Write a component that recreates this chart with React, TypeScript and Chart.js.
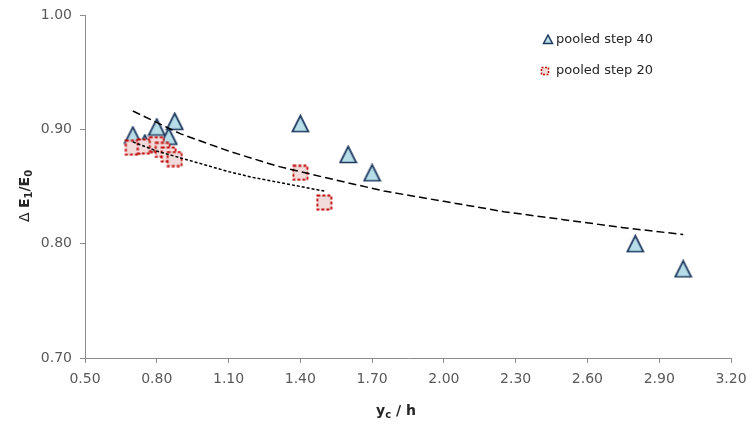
import React, { useEffect, useRef } from "react";
import { Chart, registerables } from "chart.js";

Chart.register(...registerables);

// pooled step 40 (triangles)
const step40X = [0.70, 0.75, 0.80, 0.85, 0.875, 1.40, 1.60, 1.70, 2.80, 3.00];
const step40Y = [0.895, 0.888, 0.902, 0.894, 0.907, 0.905, 0.878, 0.862, 0.800, 0.778];

// pooled step 20 (squares)
const step20X = [0.70, 0.75, 0.80, 0.825, 0.85, 0.875, 1.40, 1.50];
const step20Y = [0.884, 0.885, 0.887, 0.882, 0.878, 0.874, 0.862, 0.836];

// trend line for step 40 (dashed)
const trend40X = [0.70, 0.90, 1.10, 1.30, 1.50, 1.75, 2.00, 2.25, 2.50, 2.75, 3.00];
const trend40Y = [0.916, 0.896, 0.881, 0.868, 0.858, 0.846, 0.837, 0.828, 0.821, 0.814, 0.808];

// trend line for step 20 (dotted)
const trend20X = [0.70, 0.80, 0.90, 1.00, 1.10, 1.20, 1.30, 1.40, 1.50];
const trend20Y = [0.889, 0.881, 0.875, 0.869, 0.863, 0.858, 0.854, 0.850, 0.846];

const xTicks = [0.5, 0.8, 1.1, 1.4, 1.7, 2.0, 2.3, 2.6, 2.9, 3.2];
const yTicks = [0.7, 0.8, 0.9, 1.0];

const legendLabels = ["pooled step 40", "pooled step 20"];
const xTitle = ["y", "c", " / h"];
const yTitle = ["\u0394 ", "E", "1", "/E", "0"];

const FONT = "'DejaVu Sans', sans-serif";
const TRI_FILL = "#b7dde8";
const TRI_STROKE = "#1f3a5f";
const SQ_FILL = "#f2dcdb";
const SQ_STROKE = "#c00000";

function makeTriangle(): HTMLCanvasElement {
  const c = document.createElement("canvas");
  c.width = 19;
  c.height = 19;
  const g = c.getContext("2d")!;
  g.beginPath();
  g.moveTo(9.5, 1.5);
  g.lineTo(17.5, 17.5);
  g.lineTo(1.5, 17.5);
  g.closePath();
  g.fillStyle = TRI_FILL;
  g.fill();
  g.lineWidth = 1.7;
  g.strokeStyle = TRI_STROKE;
  g.stroke();
  return c;
}

function makeSquare(): HTMLCanvasElement {
  const c = document.createElement("canvas");
  c.width = 17;
  c.height = 17;
  const g = c.getContext("2d")!;
  g.fillStyle = SQ_FILL;
  g.fillRect(1.5, 1.5, 14, 14);
  g.setLineDash([3, 2]);
  g.lineWidth = 1.8;
  g.strokeStyle = SQ_STROKE;
  g.strokeRect(1.5, 1.5, 14, 14);
  return c;
}

type Seg = { t: string; font: string; dy: number };

function drawSegs(ctx: CanvasRenderingContext2D, segs: Seg[], cx: number, cy: number) {
  let total = 0;
  for (const s of segs) {
    ctx.font = s.font;
    total += ctx.measureText(s.t).width;
  }
  let x = cx - total / 2;
  ctx.textBaseline = "middle";
  ctx.textAlign = "left";
  for (const s of segs) {
    ctx.font = s.font;
    ctx.fillText(s.t, x, cy + s.dy);
    x += ctx.measureText(s.t).width;
  }
}

const extrasPlugin = {
  id: "extras",
  afterDraw(chart: any) {
    const ctx: CanvasRenderingContext2D = chart.ctx;
    ctx.save();
    ctx.fillStyle = "#262626";
    drawSegs(
      ctx,
      [
        { t: xTitle[0], font: `bold 14px ${FONT}`, dy: 0 },
        { t: xTitle[1], font: `bold 10px ${FONT}`, dy: 4 },
        { t: xTitle[2], font: `bold 14px ${FONT}`, dy: 0 },
      ],
      396,
      411
    );
    ctx.translate(25, 196);
    ctx.rotate(-Math.PI / 2);
    drawSegs(
      ctx,
      [
        { t: yTitle[0], font: `14px ${FONT}`, dy: 0 },
        { t: yTitle[1], font: `bold 14px ${FONT}`, dy: 0 },
        { t: yTitle[2], font: `bold 10px ${FONT}`, dy: 4 },
        { t: yTitle[3], font: `bold 14px ${FONT}`, dy: 0 },
        { t: yTitle[4], font: `bold 10px ${FONT}`, dy: 4 },
      ],
      0,
      0
    );
    ctx.restore();

    ctx.save();
    ctx.beginPath();
    ctx.moveTo(548, 35);
    ctx.lineTo(552.5, 43.5);
    ctx.lineTo(543.5, 43.5);
    ctx.closePath();
    ctx.fillStyle = TRI_FILL;
    ctx.fill();
    ctx.lineWidth = 1.5;
    ctx.strokeStyle = TRI_STROKE;
    ctx.stroke();
    ctx.fillStyle = SQ_FILL;
    ctx.fillRect(541.5, 67.5, 7, 7);
    ctx.setLineDash([2, 1.5]);
    ctx.strokeStyle = SQ_STROKE;
    ctx.lineWidth = 1.5;
    ctx.strokeRect(541.5, 67.5, 7, 7);
    ctx.setLineDash([]);
    ctx.fillStyle = "#262626";
    ctx.font = `13px ${FONT}`;
    ctx.textAlign = "left";
    ctx.textBaseline = "middle";
    ctx.fillText(legendLabels[0], 556, 40);
    ctx.fillText(legendLabels[1], 556, 71);
    ctx.restore();
  },
};

export default function App() {
  const ref = useRef<HTMLCanvasElement | null>(null);

  useEffect(() => {
    document.body.style.margin = "0";
    const canvas = ref.current;
    if (!canvas) return;
    const tri = makeTriangle();
    const sq = makeSquare();

    const toPts = (xs: number[], ys: number[]) => xs.map((x, i) => ({ x, y: ys[i] }));

    const chart = new Chart(canvas, {
      type: "scatter",
      data: {
        datasets: [
          {
            label: "trend 40",
            data: toPts(trend40X, trend40Y),
            showLine: true,
            pointRadius: 0,
            borderColor: "#000000",
            borderWidth: 1.5,
            borderDash: [8, 4],
            tension: 0,
            order: 0,
          } as any,
          {
            label: "trend 20",
            data: toPts(trend20X, trend20Y),
            showLine: true,
            pointRadius: 0,
            borderColor: "#000000",
            borderWidth: 1.5,
            borderDash: [3, 2],
            tension: 0,
            order: 0,
          } as any,
          {
            label: legendLabels[1],
            data: toPts(step20X, step20Y),
            pointStyle: sq,
            pointRadius: 8,
            order: 1,
          } as any,
          {
            label: legendLabels[0],
            data: toPts(step40X, step40Y),
            pointStyle: tri,
            pointRadius: 9,
            order: 2,
          } as any,
        ],
      },
      options: {
        animation: false,
        responsive: false,
        devicePixelRatio: 1,
        layout: { padding: { left: 0, top: 15, right: 20, bottom: 0 } },
        plugins: {
          legend: { display: false },
          tooltip: { enabled: false },
        },
        scales: {
          x: {
            type: "linear",
            min: 0.5,
            max: 3.2,
            afterBuildTicks: (s: any) => {
              s.ticks = xTicks.map((v) => ({ value: v }));
            },
            afterFit: (s: any) => {
              s.height = 72;
              s.paddingLeft = 0;
              s.paddingRight = 0;
            },
            ticks: {
              autoSkip: false,
              maxRotation: 0,
              padding: 8,
              color: "#595959",
              font: { family: FONT, size: 14 },
              callback: (v: any) => Number(v).toFixed(2),
            },
            grid: {
              drawOnChartArea: false,
              drawTicks: true,
              tickLength: 5,
              color: "#8c8c8c",
            },
            border: { color: "#8c8c8c", width: 1 },
          },
          y: {
            type: "linear",
            min: 0.7,
            max: 1.0,
            afterBuildTicks: (s: any) => {
              s.ticks = yTicks.map((v) => ({ value: v }));
            },
            afterFit: (s: any) => {
              s.width = 85;
              s.paddingTop = 0;
              s.paddingBottom = 0;
            },
            ticks: {
              padding: 8,
              color: "#595959",
              font: { family: FONT, size: 14 },
              callback: (v: any) => Number(v).toFixed(2),
            },
            grid: {
              drawOnChartArea: false,
              drawTicks: true,
              tickLength: 5,
              color: "#8c8c8c",
            },
            border: { color: "#8c8c8c", width: 1 },
          },
        },
      },
      plugins: [extrasPlugin],
    });
    return () => chart.destroy();
  }, []);

  return (
    <div style={{ width: 751, height: 430, position: "relative" }}>
      <canvas ref={ref} width={751} height={430} />
    </div>
  );
}
